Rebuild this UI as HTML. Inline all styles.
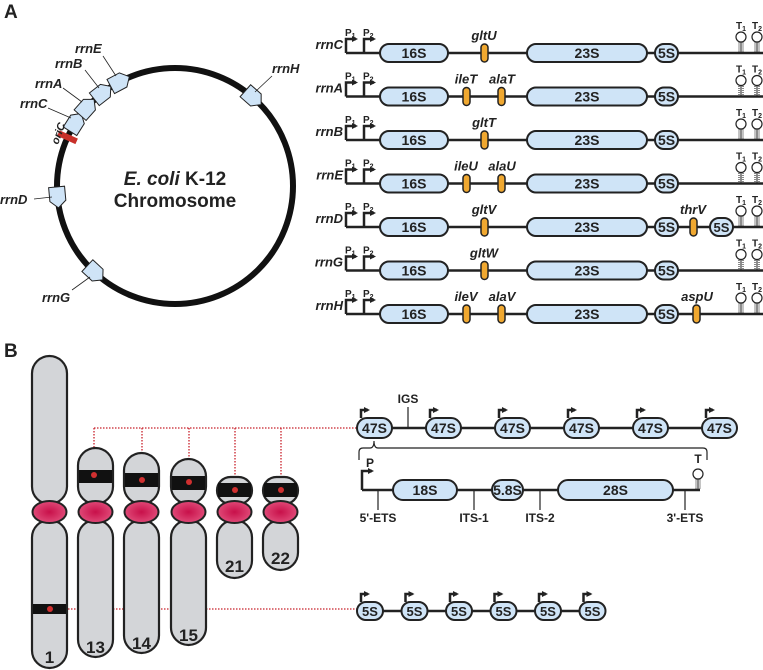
<!DOCTYPE html>
<html><head><meta charset="utf-8"><style>
html,body{margin:0;padding:0;background:#fff}
svg{display:block}
text{font-family:"Liberation Sans",sans-serif;font-weight:bold;fill:#222}
.it{font-style:italic}
.ln{stroke:#222;stroke-width:2.5;fill:none}
.bl{fill:#cfe4f7;stroke:#222;stroke-width:2}
.tr{fill:#f0a830;stroke:#222;stroke-width:1.5}
.ch{fill:#d3d5d8;stroke:#222;stroke-width:2.2}
.dot{stroke:#c8202a;stroke-width:1.3;stroke-dasharray:1.5 1.5;fill:none}
</style></head><body>
<svg width="763" height="670" viewBox="0 0 763 670" xmlns="http://www.w3.org/2000/svg">
<defs>
<marker id="ah" markerWidth="6" markerHeight="6" refX="4" refY="3" orient="auto" markerUnits="userSpaceOnUse"><path d="M0,0 L6,3 L0,6 Z" fill="#222"/></marker>
<radialGradient id="cg"><stop offset="0" stop-color="#c8104a"/><stop offset="1" stop-color="#e04a78"/></radialGradient>
<g id="pent"><polygon points="-10,-8 4,-8 11,0 4,8 -10,8" fill="#cfe4f7" stroke="#222" stroke-width="1"/></g>
<g id="term"><line x1="0" y1="-1" x2="0" y2="-11" stroke="#222" stroke-width="1"/><line x1="-3" y1="-2" x2="3" y2="-2" stroke="#888" stroke-width="1"/><line x1="-3" y1="-4" x2="3" y2="-4" stroke="#888" stroke-width="1"/><line x1="-3" y1="-6" x2="3" y2="-6" stroke="#888" stroke-width="1"/><line x1="-3" y1="-8" x2="3" y2="-8" stroke="#888" stroke-width="1"/><line x1="-3" y1="-10" x2="3" y2="-10" stroke="#888" stroke-width="1"/><circle cx="0" cy="-16" r="5" fill="#fff" stroke="#222" stroke-width="1.2"/></g>
<g id="rowbase">
<line x1="346" y1="0" x2="763" y2="0" class="ln"/>
<path d="M346,0 V-14 H356" class="ln" stroke-width="1.6" marker-end="url(#ah)"/>
<path d="M364,0 V-14 H374" class="ln" stroke-width="1.6" marker-end="url(#ah)"/>
<rect x="380" y="-9" width="68" height="18" rx="9" class="bl"/>
<rect x="527" y="-9" width="120" height="18" rx="9" class="bl"/>
<rect x="655" y="-9" width="23" height="18" rx="9" class="bl"/>
<use href="#term" x="741" y="0"/><use href="#term" x="757" y="0"/>
</g>
</defs>

<text x="4" y="18" font-size="19">A</text>
<text x="4" y="357" font-size="19">B</text>

<circle cx="175" cy="186" r="118" fill="none" stroke="#111" stroke-width="6"/>
<text x="175" y="185" font-size="19" text-anchor="middle"><tspan class="it">E. coli</tspan> K-12</text>
<text x="175" y="207" font-size="19" text-anchor="middle">Chromosome</text>
<g transform="translate(175,186)">
<rect transform="rotate(204.4) translate(118,0)" x="-10" y="-3" width="20" height="6" fill="#c8302a"/>
<use href="#pent" transform="rotate(212.4) translate(118,0) rotate(90)"/>
<use href="#pent" transform="rotate(221.6) translate(118,0) rotate(90)"/>
<use href="#pent" transform="rotate(231.9) translate(118,0) rotate(90)"/>
<use href="#pent" transform="rotate(242) translate(118,0) rotate(90)"/>
<use href="#pent" transform="rotate(311.3) translate(118,0) rotate(90)"/>
<use href="#pent" transform="rotate(174.7) translate(118,0) rotate(-90)"/>
<use href="#pent" transform="rotate(132.9) translate(118,0) rotate(-90)"/>
</g>
<g stroke="#222" stroke-width="0.8">
<line x1="103" y1="56" x2="116" y2="76"/><line x1="85" y1="70" x2="99" y2="88"/>
<line x1="63" y1="88" x2="82" y2="102"/><line x1="48" y1="108" x2="71" y2="118"/>
<line x1="34" y1="199" x2="52" y2="197"/><line x1="72" y1="290" x2="90" y2="277"/>
<line x1="272" y1="76" x2="255" y2="92"/>
</g>
<g font-size="13">
<text x="75" y="53" class="it">rrnE</text><text x="55" y="68" class="it">rrnB</text>
<text x="35" y="88" class="it">rrnA</text><text x="20" y="108" class="it">rrnC</text>
<text x="0" y="204" class="it">rrnD</text><text x="42" y="302" class="it">rrnG</text>
<text x="272" y="73" class="it">rrnH</text>
<text transform="translate(58,145) rotate(-70)" font-size="11" class="it">oriC</text>
</g>

<g font-size="13">
<g transform="translate(0,53)"><use href="#rowbase"/>
<text x="343" y="-4" text-anchor="end" class="it">rrnC</text>
<rect x="481" y="-9" width="7" height="18" rx="3.5" class="tr"/><text x="484" y="-13" text-anchor="middle" class="it">gltU</text></g>
<g transform="translate(0,96.5)"><use href="#rowbase"/>
<text x="343" y="-4" text-anchor="end" class="it">rrnA</text>
<rect x="463" y="-9" width="7" height="18" rx="3.5" class="tr"/><text x="466" y="-13" text-anchor="middle" class="it">ileT</text>
<rect x="498" y="-9" width="7" height="18" rx="3.5" class="tr"/><text x="502" y="-13" text-anchor="middle" class="it">alaT</text></g>
<g transform="translate(0,140)"><use href="#rowbase"/>
<text x="343" y="-4" text-anchor="end" class="it">rrnB</text>
<rect x="481" y="-9" width="7" height="18" rx="3.5" class="tr"/><text x="484" y="-13" text-anchor="middle" class="it">gltT</text></g>
<g transform="translate(0,183.5)"><use href="#rowbase"/>
<text x="343" y="-4" text-anchor="end" class="it">rrnE</text>
<rect x="463" y="-9" width="7" height="18" rx="3.5" class="tr"/><text x="466" y="-13" text-anchor="middle" class="it">ileU</text>
<rect x="498" y="-9" width="7" height="18" rx="3.5" class="tr"/><text x="502" y="-13" text-anchor="middle" class="it">alaU</text></g>
<g transform="translate(0,227)"><use href="#rowbase"/>
<text x="343" y="-4" text-anchor="end" class="it">rrnD</text>
<rect x="481" y="-9" width="7" height="18" rx="3.5" class="tr"/><text x="484" y="-13" text-anchor="middle" class="it">gltV</text>
<rect x="690" y="-9" width="7" height="18" rx="3.5" class="tr"/><text x="693" y="-13" text-anchor="middle" class="it">thrV</text>
<rect x="710" y="-9" width="23" height="18" rx="9" class="bl"/><text x="721.5" y="5" text-anchor="middle">5S</text></g>
<g transform="translate(0,270.5)"><use href="#rowbase"/>
<text x="343" y="-4" text-anchor="end" class="it">rrnG</text>
<rect x="481" y="-9" width="7" height="18" rx="3.5" class="tr"/><text x="484" y="-13" text-anchor="middle" class="it">gltW</text></g>
<g transform="translate(0,314)"><use href="#rowbase"/>
<text x="343" y="-4" text-anchor="end" class="it">rrnH</text>
<rect x="463" y="-9" width="7" height="18" rx="3.5" class="tr"/><text x="466" y="-13" text-anchor="middle" class="it">ileV</text>
<rect x="498" y="-9" width="7" height="18" rx="3.5" class="tr"/><text x="502" y="-13" text-anchor="middle" class="it">alaV</text>
<rect x="693" y="-9" width="7" height="18" rx="3.5" class="tr"/><text x="697" y="-13" text-anchor="middle" class="it">aspU</text></g>
</g>
<g font-size="14" text-anchor="middle">
<text x="414" y="58">16S</text><text x="587" y="58">23S</text><text x="666.5" y="58">5S</text>
<text x="414" y="101.5">16S</text><text x="587" y="101.5">23S</text><text x="666.5" y="101.5">5S</text>
<text x="414" y="145">16S</text><text x="587" y="145">23S</text><text x="666.5" y="145">5S</text>
<text x="414" y="188.5">16S</text><text x="587" y="188.5">23S</text><text x="666.5" y="188.5">5S</text>
<text x="414" y="232">16S</text><text x="587" y="232">23S</text><text x="666.5" y="232">5S</text>
<text x="414" y="275.5">16S</text><text x="587" y="275.5">23S</text><text x="666.5" y="275.5">5S</text>
<text x="414" y="319">16S</text><text x="587" y="319">23S</text><text x="666.5" y="319">5S</text>
</g>
<g font-size="10">
<text x="345" y="36">P<tspan font-size="7" dy="2">1</tspan></text><text x="363" y="36">P<tspan font-size="7" dy="2">2</tspan></text><text x="736" y="29">T<tspan font-size="7" dy="2">1</tspan></text><text x="752" y="29">T<tspan font-size="7" dy="2">2</tspan></text>
<text x="345" y="79.5">P<tspan font-size="7" dy="2">1</tspan></text><text x="363" y="79.5">P<tspan font-size="7" dy="2">2</tspan></text><text x="736" y="72.5">T<tspan font-size="7" dy="2">1</tspan></text><text x="752" y="72.5">T<tspan font-size="7" dy="2">2</tspan></text>
<text x="345" y="123">P<tspan font-size="7" dy="2">1</tspan></text><text x="363" y="123">P<tspan font-size="7" dy="2">2</tspan></text><text x="736" y="116">T<tspan font-size="7" dy="2">1</tspan></text><text x="752" y="116">T<tspan font-size="7" dy="2">2</tspan></text>
<text x="345" y="166.5">P<tspan font-size="7" dy="2">1</tspan></text><text x="363" y="166.5">P<tspan font-size="7" dy="2">2</tspan></text><text x="736" y="159.5">T<tspan font-size="7" dy="2">1</tspan></text><text x="752" y="159.5">T<tspan font-size="7" dy="2">2</tspan></text>
<text x="345" y="210">P<tspan font-size="7" dy="2">1</tspan></text><text x="363" y="210">P<tspan font-size="7" dy="2">2</tspan></text><text x="736" y="203">T<tspan font-size="7" dy="2">1</tspan></text><text x="752" y="203">T<tspan font-size="7" dy="2">2</tspan></text>
<text x="345" y="253.5">P<tspan font-size="7" dy="2">1</tspan></text><text x="363" y="253.5">P<tspan font-size="7" dy="2">2</tspan></text><text x="736" y="246.5">T<tspan font-size="7" dy="2">1</tspan></text><text x="752" y="246.5">T<tspan font-size="7" dy="2">2</tspan></text>
<text x="345" y="297">P<tspan font-size="7" dy="2">1</tspan></text><text x="363" y="297">P<tspan font-size="7" dy="2">2</tspan></text><text x="736" y="290">T<tspan font-size="7" dy="2">1</tspan></text><text x="752" y="290">T<tspan font-size="7" dy="2">2</tspan></text>
</g>

<path class="dot" d="M94,428 H358 M94,428 V468 M142,428 V474 M189,428 V478 M235,428 V487 M281,428 V487 M50,609 H358"/>
<rect x="32" y="356" width="35" height="148" rx="17.5" class="ch"/>
<rect x="32" y="520" width="35" height="148" rx="17.5" class="ch"/>
<rect x="33" y="604" width="33" height="10" fill="#111"/>
<ellipse cx="49.5" cy="512" rx="17" ry="11" fill="url(#cg)" stroke="#222" stroke-width="2"/>
<rect x="78" y="448" width="35" height="56" rx="17.5" class="ch"/>
<rect x="78" y="520" width="35" height="137" rx="17.5" class="ch"/>
<rect x="79" y="470" width="33" height="13" fill="#111"/>
<ellipse cx="95.5" cy="512" rx="17" ry="11" fill="url(#cg)" stroke="#222" stroke-width="2"/>
<rect x="124" y="453" width="35" height="51" rx="17.5" class="ch"/>
<rect x="124" y="520" width="35" height="133" rx="17.5" class="ch"/>
<rect x="125" y="473" width="33" height="14" fill="#111"/>
<ellipse cx="141.5" cy="512" rx="17" ry="11" fill="url(#cg)" stroke="#222" stroke-width="2"/>
<rect x="171" y="459" width="35" height="45" rx="17.5" class="ch"/>
<rect x="171" y="520" width="35" height="125" rx="17.5" class="ch"/>
<rect x="172" y="476" width="33" height="14" fill="#111"/>
<ellipse cx="188.5" cy="512" rx="17" ry="11" fill="url(#cg)" stroke="#222" stroke-width="2"/>
<rect x="217" y="477" width="35" height="27" rx="13.5" class="ch"/>
<rect x="217" y="520" width="35" height="58" rx="17.5" class="ch"/>
<rect x="218" y="483" width="33" height="14" fill="#111"/>
<ellipse cx="234.5" cy="512" rx="17" ry="11" fill="url(#cg)" stroke="#222" stroke-width="2"/>
<rect x="263" y="477" width="35" height="27" rx="13.5" class="ch"/>
<rect x="263" y="520" width="35" height="50" rx="17.5" class="ch"/>
<rect x="264" y="483" width="33" height="14" fill="#111"/>
<ellipse cx="280.5" cy="512" rx="17" ry="11" fill="url(#cg)" stroke="#222" stroke-width="2"/>
<g fill="#d03030"><circle cx="50" cy="609" r="3"/><circle cx="94" cy="475" r="3"/><circle cx="142" cy="480" r="3"/><circle cx="189" cy="482" r="3"/><circle cx="235" cy="490" r="3"/><circle cx="281" cy="490" r="3"/></g>
<g font-size="17" text-anchor="middle">
<text x="49.5" y="663">1</text><text x="95.5" y="653">13</text><text x="141.5" y="649">14</text><text x="188.5" y="641">15</text><text x="234.5" y="572">21</text><text x="280.5" y="564">22</text>
</g>

<line x1="357" y1="428" x2="737" y2="428" class="ln"/>
<line x1="408" y1="428" x2="408" y2="407" stroke="#222" stroke-width="1.2"/>
<text x="408" y="403" font-size="12" text-anchor="middle">IGS</text>
<g font-size="14" text-anchor="middle">
<g transform="translate(357,0)"><path d="M4,418 V410 H11" class="ln" stroke-width="1.5" marker-end="url(#ah)"/><rect x="0" y="418" width="35" height="20" rx="10" class="bl"/><text x="17.5" y="433">47S</text></g>
<g transform="translate(426,0)"><path d="M4,418 V410 H11" class="ln" stroke-width="1.5" marker-end="url(#ah)"/><rect x="0" y="418" width="35" height="20" rx="10" class="bl"/><text x="17.5" y="433">47S</text></g>
<g transform="translate(495,0)"><path d="M4,418 V410 H11" class="ln" stroke-width="1.5" marker-end="url(#ah)"/><rect x="0" y="418" width="35" height="20" rx="10" class="bl"/><text x="17.5" y="433">47S</text></g>
<g transform="translate(564,0)"><path d="M4,418 V410 H11" class="ln" stroke-width="1.5" marker-end="url(#ah)"/><rect x="0" y="418" width="35" height="20" rx="10" class="bl"/><text x="17.5" y="433">47S</text></g>
<g transform="translate(633,0)"><path d="M4,418 V410 H11" class="ln" stroke-width="1.5" marker-end="url(#ah)"/><rect x="0" y="418" width="35" height="20" rx="10" class="bl"/><text x="17.5" y="433">47S</text></g>
<g transform="translate(702,0)"><path d="M4,418 V410 H11" class="ln" stroke-width="1.5" marker-end="url(#ah)"/><rect x="0" y="418" width="35" height="20" rx="10" class="bl"/><text x="17.5" y="433">47S</text></g>
</g>
<path d="M359,460 V452 Q359,448 363,448 H370 Q374,448 374,441 Q374,448 378,448 H703 Q707,448 707,452 V460" fill="none" stroke="#222" stroke-width="1.2"/>
<line x1="362" y1="490" x2="700" y2="490" class="ln"/>
<path d="M362,490 V471 H372" class="ln" stroke-width="1.6" marker-end="url(#ah)"/>
<text x="366" y="467" font-size="12">P</text>
<rect x="393" y="480" width="64" height="20" rx="10" class="bl"/>
<rect x="492" y="480" width="31" height="20" rx="10" class="bl"/>
<rect x="558" y="480" width="115" height="20" rx="10" class="bl"/>
<use href="#term" x="698" y="490"/>
<text x="698" y="463" font-size="12" text-anchor="middle">T</text>
<g font-size="14" text-anchor="middle"><text x="425" y="495">18S</text><text x="507.5" y="495">5.8S</text><text x="615.5" y="495">28S</text></g>
<g stroke="#222" stroke-width="1.2"><line x1="378" y1="490" x2="378" y2="510"/><line x1="474" y1="490" x2="474" y2="510"/><line x1="540" y1="490" x2="540" y2="510"/><line x1="685" y1="490" x2="685" y2="510"/></g>
<g font-size="12" text-anchor="middle"><text x="378" y="522">5'-ETS</text><text x="474" y="522">ITS-1</text><text x="540" y="522">ITS-2</text><text x="685" y="522">3'-ETS</text></g>

<line x1="357" y1="611" x2="604" y2="611" class="ln"/>
<g font-size="13" text-anchor="middle">
<g transform="translate(357,0)"><path d="M4,602 V594 H11" class="ln" stroke-width="1.5" marker-end="url(#ah)"/><rect x="0" y="602" width="26" height="18" rx="9" class="bl"/><text x="13" y="616">5S</text></g>
<g transform="translate(401.5,0)"><path d="M4,602 V594 H11" class="ln" stroke-width="1.5" marker-end="url(#ah)"/><rect x="0" y="602" width="26" height="18" rx="9" class="bl"/><text x="13" y="616">5S</text></g>
<g transform="translate(446,0)"><path d="M4,602 V594 H11" class="ln" stroke-width="1.5" marker-end="url(#ah)"/><rect x="0" y="602" width="26" height="18" rx="9" class="bl"/><text x="13" y="616">5S</text></g>
<g transform="translate(490.5,0)"><path d="M4,602 V594 H11" class="ln" stroke-width="1.5" marker-end="url(#ah)"/><rect x="0" y="602" width="26" height="18" rx="9" class="bl"/><text x="13" y="616">5S</text></g>
<g transform="translate(535,0)"><path d="M4,602 V594 H11" class="ln" stroke-width="1.5" marker-end="url(#ah)"/><rect x="0" y="602" width="26" height="18" rx="9" class="bl"/><text x="13" y="616">5S</text></g>
<g transform="translate(579.5,0)"><path d="M4,602 V594 H11" class="ln" stroke-width="1.5" marker-end="url(#ah)"/><rect x="0" y="602" width="26" height="18" rx="9" class="bl"/><text x="13" y="616">5S</text></g>
</g>
</svg>
</body></html>
